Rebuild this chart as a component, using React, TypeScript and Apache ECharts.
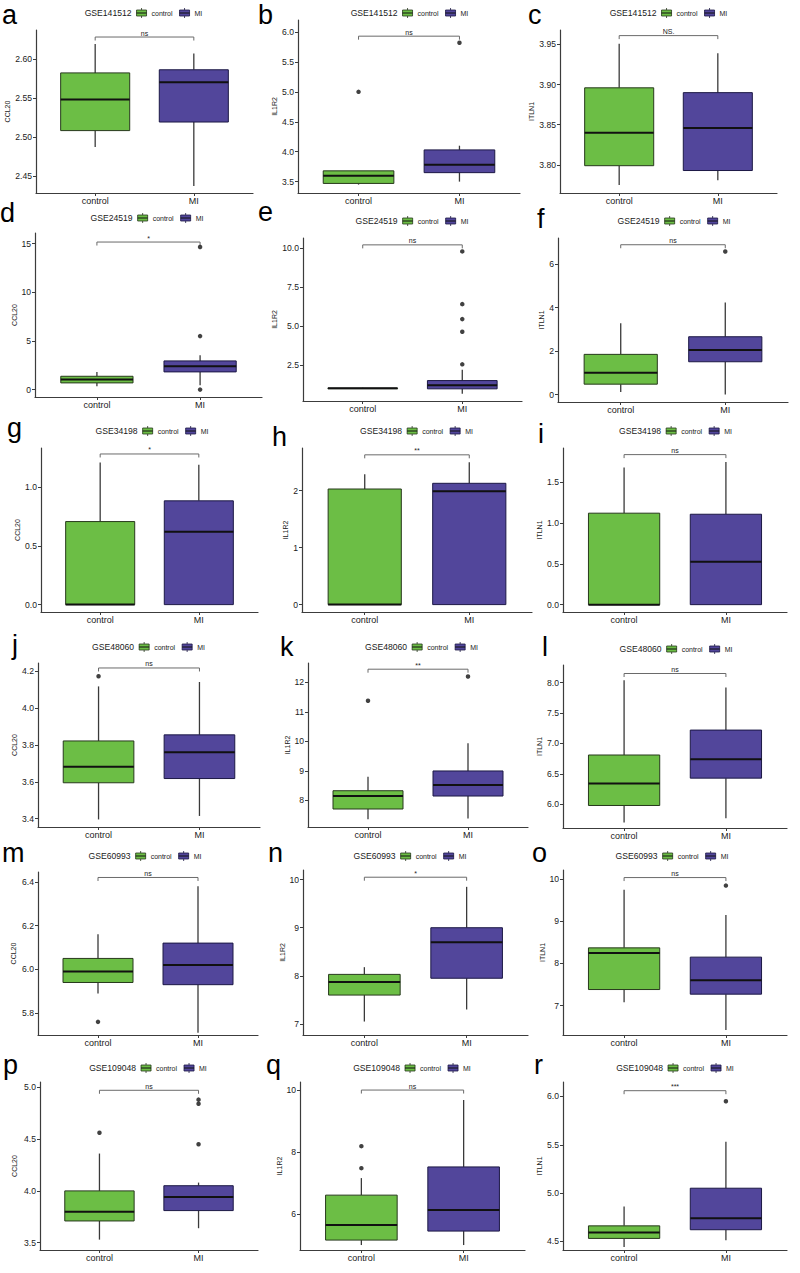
import React, { useEffect, useRef } from 'react';
import * as echarts from 'echarts';

// ---------------- DATA ----------------
const letters = ['a', 'b', 'c', 'd', 'e', 'f', 'g', 'h', 'i', 'j', 'k', 'l', 'm', 'n', 'o', 'p', 'q', 'r'];
const datasets = ['GSE141512', 'GSE24519', 'GSE34198', 'GSE48060', 'GSE60993', 'GSE109048'];
const genes = ['CCL20', 'IL1R2', 'ITLN1'];
const groups = ['control', 'MI'];

// [min, Q1, median, Q3, max]
const controlStats = [
  [2.487, 2.508, 2.548, 2.582, 2.619],
  [3.45, 3.47, 3.6, 3.68, 3.68],
  [3.775, 3.799, 3.84, 3.896, 3.951],
  [0.34, 0.69, 1.03, 1.37, 1.82],
  [0.985, 0.99, 1.0, 1.01, 1.04],
  [0.12, 0.48, 1.0, 1.85, 3.28],
  [0, 0, 0, 0.709, 1.214],
  [0, 0, 0, 2.03, 2.29],
  [0, 0, 0, 1.12, 1.68],
  [3.396, 3.595, 3.682, 3.822, 4.118],
  [7.36, 7.71, 8.15, 8.33, 8.8],
  [5.7, 5.98, 6.34, 6.81, 8.04],
  [5.89, 5.94, 5.99, 6.05, 6.16],
  [7.05, 7.6, 7.87, 8.03, 8.18],
  [7.08, 7.38, 8.25, 8.37, 9.75],
  [3.53, 3.71, 3.8, 4.0, 4.36],
  [5.0, 5.16, 5.65, 6.61, 7.16],
  [4.44, 4.53, 4.59, 4.66, 4.86],
];
const miStats = [
  [2.437, 2.519, 2.57, 2.586, 2.607],
  [3.5, 3.65, 3.78, 4.03, 4.1],
  [3.781, 3.793, 3.846, 3.89, 3.939],
  [0.44, 1.82, 2.41, 2.95, 3.54],
  [0.65, 0.97, 1.2, 1.5, 2.2],
  [0.0, 1.51, 2.05, 2.66, 4.23],
  [0, 0, 0.623, 0.886, 1.194],
  [0, 0, 1.99, 2.13, 2.5],
  [0, 0, 0.525, 1.107, 1.746],
  [3.415, 3.618, 3.76, 3.855, 4.142],
  [7.39, 8.15, 8.52, 9.0, 9.94],
  [5.77, 6.43, 6.74, 7.22, 7.92],
  [5.71, 5.93, 6.02, 6.12, 6.38],
  [7.3, 7.95, 8.7, 9.0, 9.85],
  [6.42, 7.27, 7.6, 8.15, 9.15],
  [3.64, 3.81, 3.94, 4.05, 4.08],
  [5.0, 5.45, 6.13, 7.52, 9.68],
  [4.51, 4.62, 4.74, 5.05, 5.53],
];
const controlOutliers = [
  [], [5.0], [], [], [], [], [], [], [], [4.173], [11.38], [], [5.76], [], [], [4.56], [7.48, 8.19], [],
];
const miOutliers = [
  [], [5.82], [], [0.0, 5.5, 14.66], [2.54, 4.63, 5.44, 6.4, 9.78], [6.58], [], [], [], [], [12.2], [], [], [], [9.85], [4.45, 4.84, 4.88], [], [5.95],
];
const sigLabels = ['ns', 'ns', 'NS.', '*', 'ns', 'ns', '*', '**', 'ns', 'ns', '**', 'ns', 'ns', '*', 'ns', 'ns', 'ns', '***'];
const bracketLevels = [2.628, 5.93, 3.961, 15.17, 10.2, 6.89, 1.286, 2.63, 1.837, 4.218, 12.45, 8.15, 6.42, 10.05, 10.04, 4.97, 10.0, 6.06];
const yMins = [2.428, 3.31, 3.765, -0.76, 0.19, -0.34, -0.063, -0.13, -0.09, 3.355, 7.1, 5.61, 5.7, 6.77, 6.3, 3.43, 4.84, 4.41];
const yMaxs = [2.637, 6.2, 3.968, 16.1, 10.64, 7.2, 1.337, 2.75, 1.918, 4.245, 12.66, 8.29, 6.445, 10.2, 10.22, 5.05, 10.26, 6.15];
const yTickLabels = [
  ['2.45', '2.50', '2.55', '2.60'],
  ['3.5', '4.0', '4.5', '5.0', '5.5', '6.0'],
  ['3.80', '3.85', '3.90', '3.95'],
  ['0', '5', '10', '15'],
  ['2.5', '5.0', '7.5', '10.0'],
  ['0', '2', '4', '6'],
  ['0.0', '0.5', '1.0'],
  ['0', '1', '2'],
  ['0.0', '0.5', '1.0', '1.5'],
  ['3.4', '3.6', '3.8', '4.0', '4.2'],
  ['8', '9', '10', '11', '12'],
  ['6.0', '6.5', '7.0', '7.5', '8.0'],
  ['5.8', '6.0', '6.2', '6.4'],
  ['7', '8', '9', '10'],
  ['7', '8', '9', '10'],
  ['3.5', '4.0', '4.5', '5.0'],
  ['6', '8', '10'],
  ['4.5', '5.0', '5.5', '6.0'],
];

// ---------------- LAYOUT ----------------
// [left, right, top, bottom] of each plot area
const plotRects = [
  [36, 253, 30, 193], [298, 520, 20, 193], [560, 777, 30, 193],
  [35, 262, 233, 397], [303, 522, 238, 401], [558, 788, 238, 402],
  [41, 258, 448, 612], [302, 532, 448, 612], [563, 787, 448, 612],
  [38, 260, 663, 827], [308, 528, 663, 827], [563, 787, 665, 828],
  [38, 258, 872, 1035], [303, 528, 870, 1035], [563, 787, 870, 1035],
  [40, 258, 1082, 1250], [300, 525, 1082, 1250], [563, 787, 1082, 1250],
];
const letterPos = [
  [2, 15], [258, 15], [528, 14.5],
  [0, 212.5], [258, 211.5], [537, 218.5],
  [7, 428], [272, 437], [538, 433.5],
  [12, 645], [280, 647], [542, 647],
  [2, 852.5], [268, 852.5], [532, 852.5],
  [3, 1064.5], [266, 1064.5], [534, 1064.5],
];
const legendPos = [
  [143.5, 13], [409.5, 13], [668.5, 13],
  [147, 218], [412, 221], [674, 221],
  [152, 431], [416.5, 431], [675.5, 431],
  [148.5, 647], [421.5, 647], [676, 649],
  [145, 856], [410, 856], [672, 856],
  [148, 1068], [412, 1068], [675, 1068],
];
const yNameX = [10, 274.5, 533, 15.5, 275.5, 542.5, 17.5, 285.5, 540.5, 14.5, 289.5, 541.5, 13, 283, 544, 14, 280, 543];

const FONT = "'Liberation Sans', Arial, sans-serif";
const FILLS = ['#6CBE45', '#52469B'];
const EDGES = ['#27391c', '#1c1845'];
const AXIS_COLOR = '#3c3c3c';
const WHISKER = '#3a3a3a';

const CW: Record<string, number> = { G: 0.778, S: 0.667, E: 0.667, c: 0.5, o: 0.556, n: 0.556, t: 0.278, r: 0.333, l: 0.222, M: 0.833, I: 0.278 };
function textW(s: string, size: number) {
  let w = 0;
  for (const ch of s) w += CW[ch] ?? 0.556;
  return w * size;
}

function legendIcon(x: number, cy: number, g: number) {
  return {
    type: 'group',
    children: [
      { type: 'line', shape: { x1: x + 5, y1: cy - 5, x2: x + 5, y2: cy + 5 }, style: { stroke: EDGES[g], lineWidth: 0.8 } },
      { type: 'rect', shape: { x, y: cy - 3, width: 10, height: 6 }, style: { fill: FILLS[g], stroke: EDGES[g], lineWidth: 0.8 } },
      { type: 'line', shape: { x1: x, y1: cy, x2: x + 10, y2: cy }, style: { stroke: '#111', lineWidth: 1 } },
    ],
  };
}

function buildOption() {
  const grid: any[] = [];
  const xAxis: any[] = [];
  const yAxis: any[] = [];
  const series: any[] = [];
  const graphic: any[] = [];

  for (let i = 0; i < 18; i++) {
    const [l, r, t, b] = plotRects[i];
    grid.push({ left: l, top: t, width: r - l, height: b - t, containLabel: false, outerBoundsMode: 'none' });
    xAxis.push({
      type: 'value', gridIndex: i, min: 0.4, max: 2.6,
      axisLine: { show: true, onZero: false, lineStyle: { color: AXIS_COLOR, width: 1.2 } },
      axisTick: { show: true, length: 3, customValues: [1, 2], lineStyle: { color: AXIS_COLOR } },
      axisLabel: {
        customValues: [1, 2], formatter: (v: number) => groups[Math.round(v) - 1] ?? '',
        fontSize: 9, color: '#1a1a1a', margin: 3, fontFamily: FONT,
      },
      splitLine: { show: false },
    });
    const ticks = yTickLabels[i];
    const tickVals = ticks.map(Number);
    yAxis.push({
      type: 'value', gridIndex: i, min: yMins[i], max: yMaxs[i],
      name: genes[i % 3], nameLocation: 'middle', nameGap: l - yNameX[i] - 3.5,
      nameTextStyle: { fontSize: 7, color: '#1a1a1a', fontFamily: FONT },
      axisLine: { show: true, onZero: false, lineStyle: { color: AXIS_COLOR, width: 1.2 } },
      axisTick: { show: true, length: 3, customValues: tickVals, lineStyle: { color: AXIS_COLOR } },
      axisLabel: {
        customValues: tickVals,
        formatter: (v: number) => {
          const k = tickVals.findIndex((tv) => Math.abs(tv - v) < 1e-9);
          return k >= 0 ? ticks[k] : '';
        },
        fontSize: 8.6, color: '#1a1a1a', margin: 4, fontFamily: FONT,
      },
      splitLine: { show: false },
    });

    // boxes
    series.push({
      type: 'custom', name: genes[i % 3], xAxisIndex: i, yAxisIndex: i,
      data: [[1, ...controlStats[i], 0], [2, ...miStats[i], 1]],
      encode: { x: 0, y: [1, 2, 3, 4, 5] },
      renderItem: (params: any, api: any) => {
        const x = api.value(0);
        const g = api.value(6);
        const pMin = api.coord([x, api.value(1)]);
        const pQ1 = api.coord([x, api.value(2)]);
        const pMed = api.coord([x, api.value(3)]);
        const pQ3 = api.coord([x, api.value(4)]);
        const pMax = api.coord([x, api.value(5)]);
        const w = api.size([0.7, 0])[0];
        const cx = pMin[0];
        return {
          type: 'group',
          children: [
            { type: 'line', shape: { x1: cx, y1: pMax[1], x2: cx, y2: pQ3[1] }, style: { stroke: WHISKER, lineWidth: 1.3 } },
            { type: 'line', shape: { x1: cx, y1: pQ1[1], x2: cx, y2: pMin[1] }, style: { stroke: WHISKER, lineWidth: 1.3 } },
            {
              type: 'rect',
              shape: { x: cx - w / 2, y: pQ3[1], width: w, height: Math.max(pQ1[1] - pQ3[1], 0.5) },
              style: { fill: FILLS[g], stroke: EDGES[g], lineWidth: 1 },
            },
            { type: 'line', shape: { x1: cx - w / 2, y1: pMed[1], x2: cx + w / 2, y2: pMed[1] }, style: { stroke: '#111', lineWidth: 2 } },
          ],
        };
      },
      silent: true,
    });

    // outliers
    const outs: number[][] = [];
    controlOutliers[i].forEach((v) => outs.push([1, v]));
    miOutliers[i].forEach((v) => outs.push([2, v]));
    if (outs.length) {
      series.push({
        type: 'scatter', xAxisIndex: i, yAxisIndex: i, data: outs,
        symbol: 'circle', symbolSize: 4.5, itemStyle: { color: '#111' }, silent: true,
      });
    }

    // significance bracket
    const sig = sigLabels[i];
    series.push({
      type: 'custom', xAxisIndex: i, yAxisIndex: i,
      data: [[1, 2, bracketLevels[i]]],
      encode: { x: [0, 1], y: 2 },
      renderItem: (params: any, api: any) => {
        const p1 = api.coord([api.value(0), api.value(2)]);
        const p2 = api.coord([api.value(1), api.value(2)]);
        return {
          type: 'group',
          children: [
            {
              type: 'polyline',
              shape: { points: [[p1[0], p1[1] + 3.5], [p1[0], p1[1]], [p2[0], p2[1]], [p2[0], p2[1] + 3.5]] },
              style: { stroke: '#6a6a6a', lineWidth: 1, fill: 'none' },
            },
            {
              type: 'text',
              x: (p1[0] + p2[0]) / 2, y: p1[1] - 0.5,
              style: {
                text: sig, fontSize: 7, fontFamily: FONT, fill: '#222',
                align: 'center', textAlign: 'center', verticalAlign: 'bottom', textVerticalAlign: 'bottom',
              },
            },
          ],
        };
      },
      silent: true,
    });

    // panel letter
    graphic.push({
      type: 'text', x: letterPos[i][0], y: letterPos[i][1],
      style: {
        text: letters[i], fontSize: 27, fontFamily: FONT, fill: '#000',
        align: 'left', textAlign: 'left', verticalAlign: 'middle', textVerticalAlign: 'middle',
      },
    });

    // legend
    const title = datasets[Math.floor(i / 3)];
    const tW = textW(title, 8.6);
    const cW = textW('control', 7);
    const mW = textW('MI', 7);
    const total = tW + 5 + 10 + 5 + cW + 7 + 10 + 5 + mW;
    const [lcx, lcy] = legendPos[i];
    let x = lcx - total / 2;
    graphic.push({
      type: 'text', x, y: lcy,
      style: { text: title, fontSize: 8.6, fontFamily: FONT, fill: '#1a1a1a', align: 'left', textAlign: 'left', verticalAlign: 'middle', textVerticalAlign: 'middle' },
    });
    x += tW + 5;
    graphic.push(legendIcon(x, lcy, 0));
    x += 15;
    graphic.push({
      type: 'text', x, y: lcy,
      style: { text: groups[0], fontSize: 7, fontFamily: FONT, fill: '#1a1a1a', align: 'left', textAlign: 'left', verticalAlign: 'middle', textVerticalAlign: 'middle' },
    });
    x += cW + 7;
    graphic.push(legendIcon(x, lcy, 1));
    x += 15;
    graphic.push({
      type: 'text', x, y: lcy,
      style: { text: groups[1], fontSize: 7, fontFamily: FONT, fill: '#1a1a1a', align: 'left', textAlign: 'left', verticalAlign: 'middle', textVerticalAlign: 'middle' },
    });
  }

  return {
    animation: false,
    backgroundColor: '#ffffff',
    textStyle: { fontFamily: FONT },
    grid, xAxis, yAxis, series, graphic,
  };
}

export default function App() {
  const ref = useRef<HTMLDivElement>(null);
  useEffect(() => {
    document.body.style.margin = '0';
    if (!ref.current) return;
    const chart = echarts.init(ref.current, undefined, { renderer: 'svg' });
    chart.setOption(buildOption() as any);
    return () => chart.dispose();
  }, []);
  return (
    <div
      ref={ref}
      style={{ position: 'absolute', left: 0, top: 0, width: 800, height: 1273, background: '#fff' }}
    />
  );
}
